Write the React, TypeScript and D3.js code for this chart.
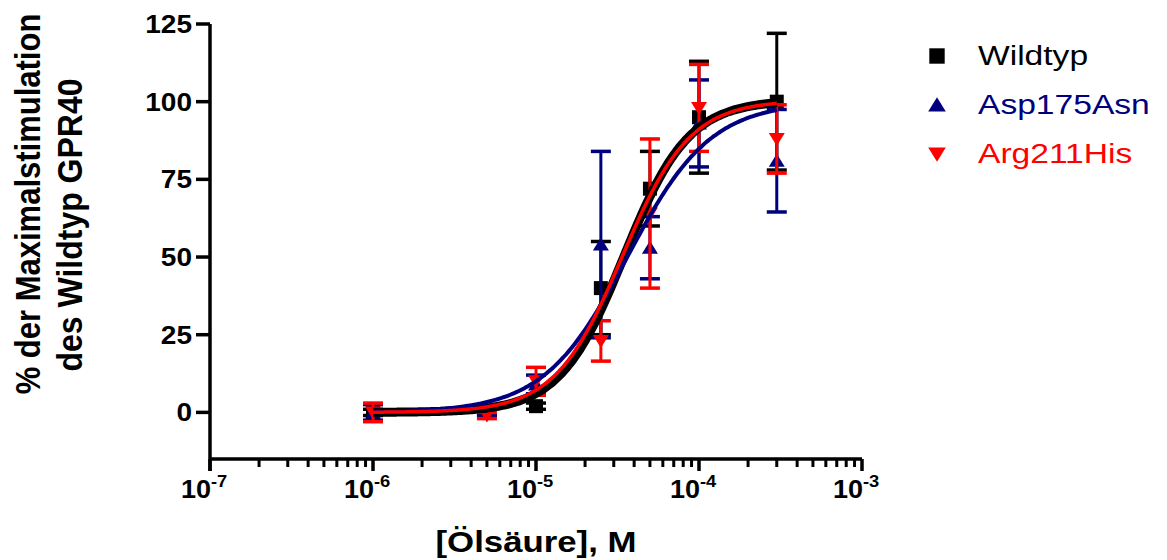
import React from "react";
import * as d3 from "d3";

// concentrations of oleic acid (M) and responses (% of wildtype max)
const concentrations = [1e-6, 5e-6, 1e-5, 2.5e-5, 5e-5, 1e-4, 3e-4];
const wildtypMean = [0, 0, 2, 40, 72, 95, 100];
const wildtypErr = [1, 1, 1, 15, 12, 18, 22];
const aspMean = [0, 0, 9, 54, 53, 93, 81];
const aspErr = [2.5, 1, 3, 30, 10, 14, 16.5];
const argMean = [0, -1, 10, 23, 64, 98, 88];
const argErr = [3, 1, 4.5, 6.5, 24, 14, 11];

// sigmoidal dose-response fit parameters
const fitBottom = [0, 0, 0];
const fitTop = [100.5, 100, 100.5];
const fitLogEC50 = [-4.46, -4.44, -4.47];
const fitHill = [2.2, 1.7, 2.1];

const seriesNames = ["Wildtyp", "Asp175Asn", "Arg211His"];
const seriesColors = ["#000000", "#00007f", "#ff0000"];
const yTicks = [0, 25, 50, 75, 100, 125];
const xDecades = [-7, -6, -5, -4, -3];

const W = 1167;
const H = 560;
const FONT = "'Liberation Sans', Arial, sans-serif";

const x = d3.scaleLog().domain([1e-7, 1e-3]).range([210, 862]);
const y = d3.scaleLinear().domain([-15, 125]).range([459, 24]);

const markerPath = (i: number, s = 1) => {
  if (i === 0) return `M${-7 * s},${-7 * s}H${7 * s}V${7 * s}H${-7 * s}Z`;
  if (i === 1) return `M0,${-7 * s}L${8 * s},${6 * s}L${-8 * s},${6 * s}Z`;
  return `M0,${7 * s}L${8 * s},${-6 * s}L${-8 * s},${-6 * s}Z`;
};

const means = [wildtypMean, aspMean, argMean];
const errs = [wildtypErr, aspErr, argErr];
const curveWidths = [9, 4, 3.5];

export default function App() {
  const minor: number[] = [];
  xDecades.slice(0, -1).forEach((k) => {
    for (let m = 2; m <= 9; m++) minor.push(m * Math.pow(10, k));
  });

  const curveX = d3.range(0, 201).map((i) => {
    const lo = Math.log10(concentrations[0]);
    const hi = Math.log10(concentrations[concentrations.length - 1]);
    return Math.pow(10, lo + ((hi - lo) * i) / 200);
  });
  const line = d3
    .line<[number, number]>()
    .x((d) => x(d[0]))
    .y((d) => y(d[1]))
    .curve(d3.curveMonotoneX);
  const curves = seriesNames.map((_, s) =>
    curveX.map((c) => {
      const v =
        fitBottom[s] +
        (fitTop[s] - fitBottom[s]) /
          (1 + Math.pow(10, (fitLogEC50[s] - Math.log10(c)) * fitHill[s]));
      return [c, v] as [number, number];
    })
  );

  return (
    <svg
      width={W}
      height={H}
      style={{ position: "absolute", left: 0, top: 0, background: "#fff" }}
      fontFamily={FONT}
    >
      {/* axes */}
      <g stroke="#000" strokeWidth={3.5} fill="none">
        <line x1={210} x2={210} y1={y(125)} y2={471} />
        <line x1={210} x2={x(1e-3)} y1={459} y2={459} />
        {yTicks.map((t) => (
          <line key={t} x1={196} x2={210} y1={y(t)} y2={y(t)} />
        ))}
        {xDecades.map((k) => (
          <line key={k} x1={x(Math.pow(10, k))} x2={x(Math.pow(10, k))} y1={459} y2={471} />
        ))}
        {minor.map((m, i) => (
          <line key={i} x1={x(m)} x2={x(m)} y1={459} y2={467} strokeWidth={3} />
        ))}
      </g>
      {yTicks.map((t) => (
        <text
          key={t}
          transform={`translate(192,${y(t) + 9}) scale(1.12,1)`}
          textAnchor="end"
          fontSize={25}
          fontWeight="bold"
        >
          {t}
        </text>
      ))}
      {xDecades.map((k) => (
        <g key={k} fontWeight="bold">
          <text
            transform={`translate(${x(Math.pow(10, k)) + 1},498) scale(1.08,1)`}
            textAnchor="end"
            fontSize={25}
          >
            10
          </text>
          <text
            transform={`translate(${x(Math.pow(10, k)) + 1},487) scale(1.08,1)`}
            fontSize={17}
          >
            {String(k)}
          </text>
        </g>
      ))}
      <text
        transform={`translate(${(210 + 862) / 2},552) scale(1.16,1)`}
        textAnchor="middle"
        fontSize={30}
        fontWeight="bold"
      >
        [Ölsäure], M
      </text>
      <text
        transform="translate(40,204) rotate(-90) scale(1,1.12)"
        textAnchor="middle"
        fontSize={31}
        fontWeight="bold"
      >
        % der Maximalstimulation
      </text>
      <text
        transform="translate(82,225) rotate(-90) scale(1,1.12)"
        textAnchor="middle"
        fontSize={32}
        fontWeight="bold"
      >
        des Wildtyp GPR40
      </text>

      {/* error bars and symbols */}
      {seriesNames.map((name, s) => (
        <g key={name} stroke={seriesColors[s]} fill={seriesColors[s]}>
          {concentrations.map((c, i) => {
            const cx = x(c);
            const hi = y(means[s][i] + errs[s][i]);
            const lo = y(means[s][i] - errs[s][i]);
            return (
              <g key={i}>
                <line x1={cx} x2={cx} y1={hi} y2={lo} strokeWidth={3} />
                <line x1={cx - 10} x2={cx + 10} y1={hi} y2={hi} strokeWidth={3.5} />
                <line x1={cx - 10} x2={cx + 10} y1={lo} y2={lo} strokeWidth={3.5} />
                <path
                  d={markerPath(s)}
                  transform={`translate(${cx},${y(means[s][i])})`}
                  stroke="none"
                />
              </g>
            );
          })}
        </g>
      ))}

      {/* fitted curves */}
      {curves.map((pts, s) => (
        <path
          key={s}
          d={line(pts) || ""}
          fill="none"
          stroke={seriesColors[s]}
          strokeWidth={curveWidths[s]}
        />
      ))}

      {/* legend */}
      {seriesNames.map((name, s) => (
        <g key={name} transform={`translate(0,${s * 49})`}>
          <path
            d={markerPath(s, 1.1)}
            transform={`translate(937,${56})`}
            fill={seriesColors[s]}
          />
          <text
            transform={`translate(978,65) scale(1.2,1)`}
            fontSize={28}
            fill={seriesColors[s]}
          >
            {name}
          </text>
        </g>
      ))}
    </svg>
  );
}
